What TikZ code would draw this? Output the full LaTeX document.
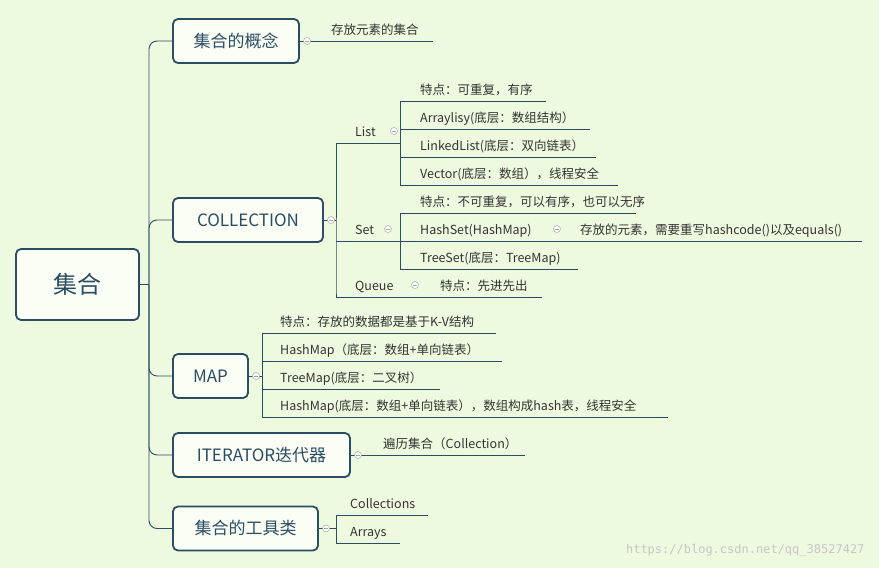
\documentclass[tikz,border=0pt]{standalone}
\usepackage{fontspec}
\setmainfont{Noto Sans CJK SC}
\setmonofont{DejaVu Sans Mono}
\definecolor{bgc}{HTML}{EEFADF}
\definecolor{ink}{HTML}{2B4D63}
\definecolor{txt}{HTML}{333333}
\tikzset{
  topic/.style={rectangle, draw=ink, line width=1.8pt, rounded corners=5pt, fill=white!70!bgc, text=ink, minimum height=44pt, inner sep=0pt},
  leaf/.style={anchor=base west, inner sep=0pt, text=txt, font=\fontsize{12.5}{14}\selectfont},
  conn/.style={draw=ink, line width=0.9pt},
  fold/.style={circle, draw=gray!70, fill=white, minimum size=7pt, inner sep=0pt, line width=0.5pt,
    path picture={\draw[gray!70, line width=0.5pt] ([xshift=-2pt]path picture bounding box.center) -- ([xshift=2pt]path picture bounding box.center);}}
}
% leaf: name, line start x, line end x, line y, text x, text
\newcommand{\leaf}[6]{%
  \coordinate (#1-s) at (#2,#4);
  \coordinate (#1-e) at (#3,#4);
  \node[leaf] (#1) at (#5,#4-7) {#6};
  \draw[conn] (#1-s) -- (#1-e);
}
\begin{document}
\begin{tikzpicture}[x=1pt, y=-1pt]
\useasboundingbox[fill=bgc] (0,0) rectangle (879,568);

% topics
\node[topic, minimum width=123pt, minimum height=71pt, font=\fontsize{24}{26}\selectfont] (root) at (77.5,284.5) {集合};
\node[topic, minimum width=126pt, font=\fontsize{17}{20}\selectfont] (concept) at (236,41) {集合的概念};
\node[topic, minimum width=150pt, font=\fontsize{17}{20}\selectfont] (coll) at (248,220) {COLLECTION};
\node[topic, minimum width=75pt, font=\fontsize{17}{20}\selectfont] (map) at (210.5,376) {MAP};
\node[topic, minimum width=177pt, font=\fontsize{17}{20}\selectfont] (iter) at (261.5,455) {ITERATOR迭代器};
\node[topic, minimum width=145pt, font=\fontsize{17}{20}\selectfont] (tools) at (245.5,528.5) {集合的工具类};

% main trunk
\coordinate (trunk) at (149,284.5);
\draw[conn] (root.east) -- (trunk);
\foreach \t in {concept, coll, map, iter, tools}
  \draw[conn, rounded corners=8pt] (trunk) |- (\t.west);

% concept
\leaf{cdef}{299}{433}{41}{331}{存放元素的集合}
\node[fold] at (307,41) {};

% collection
\draw[conn] (coll.east) -- (336,220);
\leaf{list}{336}{400}{143}{355}{List}
\leaf{set}{336}{400}{241}{355}{Set}
\leaf{queue}{336}{430}{297}{355}{Queue}
\draw[conn, rounded corners=6pt] (list-s) |- (queue-s);
\node[fold] at (331,220) {};
\node[fold] at (394,131) {};
\node[fold] at (388,229) {};
\node[fold] at (415,285) {};

% list
\leaf{l1}{400}{546}{101}{420}{特点：可重复，有序}
\leaf{l2}{400}{590}{129}{420}{Arraylisy(底层：数组结构）}
\leaf{l3}{400}{596}{157}{420}{LinkedList(底层：双向链表）}
\leaf{l4}{400}{618}{185}{420}{Vector(底层：数组），线程安全}
\draw[conn, rounded corners=6pt] (l1-s) -- (l4-s);

% set
\leaf{s1}{400}{636}{213}{420}{特点：不可重复，可以有序，也可以无序}
\leaf{s2}{400}{550}{241}{420}{HashSet(HashMap)}
\leaf{s3}{400}{578}{269}{420}{TreeSet(底层：TreeMap)}
\draw[conn, rounded corners=6pt] (s1-s) -- (s3-s);
\leaf{s2a}{565}{862}{241}{580}{存放的元素，需要重写hashcode()以及equals()}
\draw[conn] (s2-e) -- (s2a-s);
\node[fold] at (557,229) {};

% queue
\leaf{q1}{430}{542}{297}{440}{特点：先进先出}

% map
\draw[conn] (map.east) -- (262,376);
\leaf{m1}{262}{496}{333}{280}{特点：存放的数据都是基于K-V结构}
\leaf{m2}{262}{502}{361}{280}{HashMap（底层：数组+单向链表）}
\leaf{m3}{262}{440}{389}{280}{TreeMap(底层：二叉树）}
\leaf{m4}{262}{668}{417}{280}{HashMap(底层：数组+单向链表），数组构成hash表，线程安全}
\draw[conn, rounded corners=6pt] (m1-s) -- (m4-s);
\node[fold] at (256,376) {};

% iterator
\leaf{i1}{350}{525}{455}{383}{遍历集合（Collection）}
\node[fold] at (358,455) {};

% tools
\draw[conn] (tools.east) -- (336,528.5);
\leaf{t1}{336}{428}{515}{350}{Collections}
\leaf{t2}{336}{400}{543}{350}{Arrays}
\draw[conn, rounded corners=6pt] (t1-s) -- (t2-s);
\node[fold] at (326,528.5) {};

% watermark
\node[anchor=base east, text=gray!45, font=\ttfamily\fontsize{12}{14}\selectfont] (mark) at (868,553) {https://blog.csdn.net/qq\_38527427};
\end{tikzpicture}
\end{document}
